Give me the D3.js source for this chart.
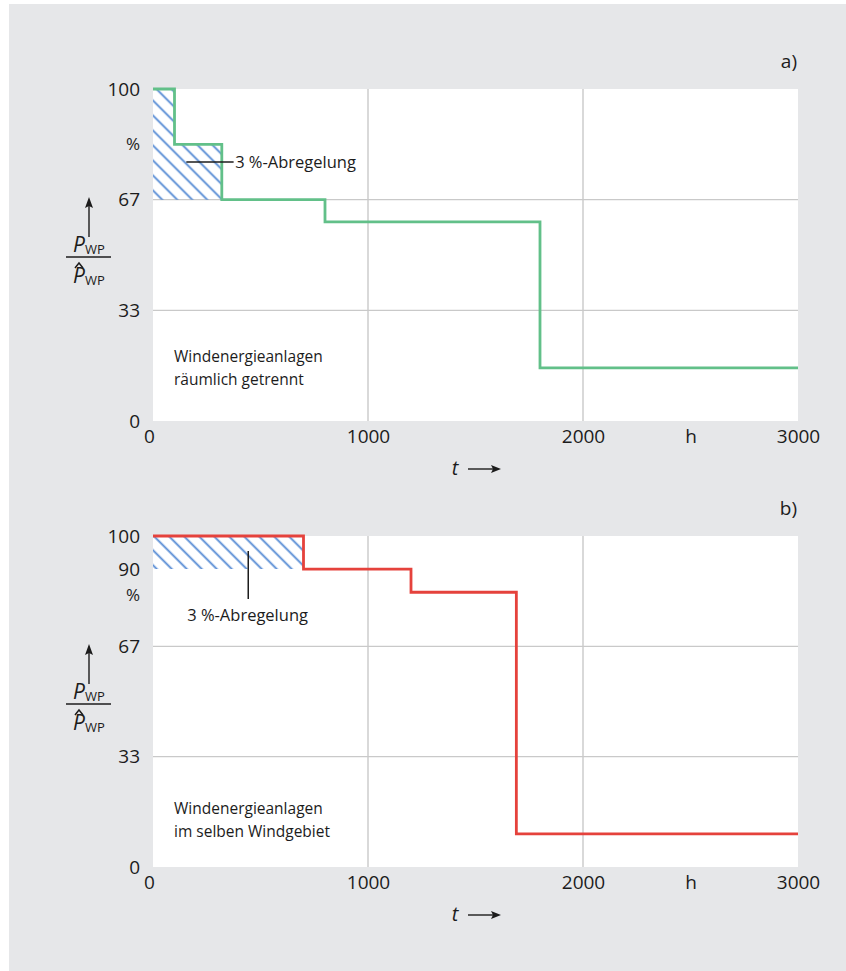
<!DOCTYPE html>
<html><head><meta charset="utf-8">
<script src="https://cdn.jsdelivr.net/npm/d3@7"></script>
<style>
html,body{margin:0;padding:0;background:#fff;}
svg text{font-family:"Open Sans",sans-serif;fill:#1c1c1c;}
</style></head>
<body><svg id="c" width="846" height="971"></svg>
<script>
// ---- data ----
const xTickValues = [0, 1000, 2000, 2500, 3000];
const xTickLabels = ["0", "1000", "2000", "h", "3000"];
const gridX = [1000, 2000];
const gridY = [100/3, 200/3];
const yTicksA = [0, 100/3, 200/3, 100];
const yLabelsA = ["0", "33", "67", "100"];
const yTicksB = [0, 100/3, 200/3, 90, 100];
const yLabelsB = ["0", "33", "67", "90", "100"];
// panel a) : green step curve (hours, percent)
const aTimes  = [0, 100, 320, 800, 1800, 3000];
const aLevels = [100, 83.3, 66.7, 60, 16, 16];
// curtailment region a)
const aCutTimes  = [0, 100, 320];
const aCutLevels = [100, 83.3, 83.3];
const aCutFloor = 200/3;
// panel b) : red step curve
const bTimes  = [0, 700, 1200, 1690, 3000];
const bLevels = [100, 90, 83, 10, 10];
const bCutTimes = [0, 700];
const bCutLevels = [100, 100];
const bCutFloor = 90;
const textA = ["Windenergieanlagen", "räumlich getrennt"];
const textB = ["Windenergieanlagen", "im selben Windgebiet"];
const cutLabel = "3 %-Abregelung";

const svg = d3.select("#c");
svg.append("rect").attr("x",9).attr("y",4).attr("width",846-9).attr("height",971-4).attr("fill","#e6e7e9");

const defs = svg.append("defs");
const pat = defs.append("pattern").attr("id","hatch").attr("patternUnits","userSpaceOnUse")
  .attr("width",12).attr("height",10.6).attr("patternTransform","rotate(45)");
pat.append("line").attr("x1",-1).attr("x2",13).attr("y1",5.3).attr("y2",5.3)
  .attr("stroke","#4f86d2").attr("stroke-width",1.8);

function panel(cfg){
  const x = d3.scaleLinear().domain([0,3000]).range([153,798]);
  const y = d3.scaleLinear().domain([0,100]).range([cfg.bottom, cfg.top]);
  const g = svg.append("g");
  g.append("rect").attr("x",x(0)).attr("y",y(100)).attr("width",x(3000)-x(0)).attr("height",y(0)-y(100)).attr("fill","#fff");
  g.selectAll(".gx").data(gridX).join("line").attr("x1",d=>x(d)).attr("x2",d=>x(d)).attr("y1",y(0)).attr("y2",y(100))
    .attr("stroke","#c9c9c9").attr("stroke-width",1.4);
  g.selectAll(".gy").data(gridY).join("line").attr("y1",d=>y(d)).attr("y2",d=>y(d)).attr("x1",x(0)).attr("x2",x(3000))
    .attr("stroke","#c9c9c9").attr("stroke-width",1.4);
  // hatch area
  const area = d3.area().x((d,i)=>x(cfg.cutT[i])).y0(y(cfg.cutFloor)).y1((d,i)=>y(d)).curve(d3.curveStepAfter);
  g.append("path").attr("d",area(cfg.cutL)).attr("fill","url(#hatch)");
  // step line
  const line = d3.line().x((d,i)=>x(cfg.times[i])).y(d=>y(d)).curve(d3.curveStepAfter);
  g.append("path").attr("d",line(cfg.levels)).attr("fill","none").attr("stroke",cfg.color).attr("stroke-width",2.8);
  // axes
  const ax = d3.axisBottom(x).tickValues(xTickValues).tickFormat((d,i)=>xTickLabels[i]).tickSize(0).tickPadding(9);
  const axg = g.append("g").attr("transform",`translate(0,${y(0)})`).call(ax);
  axg.select(".domain").remove();
  axg.selectAll("text").attr("font-size",19).attr("font-family","Open Sans").attr("fill","#1c1c1c");
  axg.selectAll(".tick").filter(d=>d===0).select("text").attr("dx",-4);
  const ay = d3.axisLeft(y).tickValues(cfg.yTicks).tickFormat((d,i)=>cfg.yLabels[i]).tickSize(0).tickPadding(13);
  const ayg = g.append("g").attr("transform",`translate(${x(0)},0)`).call(ay);
  ayg.select(".domain").remove();
  ayg.selectAll("text").attr("font-size",19).attr("font-family","Open Sans").attr("fill","#1c1c1c");
  // % sign
  g.append("text").attr("x",140).attr("y",y(cfg.pctVal)).attr("dy","0.35em").attr("text-anchor","end").attr("font-size",17).text("%");
  // panel label
  g.append("text").attr("x",797).attr("y",cfg.top-21).attr("text-anchor","end").attr("font-size",19).text(cfg.label);
  // t arrow
  const ty = cfg.bottom+54;
  g.append("text").attr("x",455).attr("y",ty).attr("text-anchor","middle").attr("font-size",20).attr("font-style","italic").text("t");
  g.append("line").attr("x1",468).attr("x2",494).attr("y1",ty-6).attr("y2",ty-6).attr("stroke","#1c1c1c").attr("stroke-width",1.4);
  g.append("path").attr("d",`M${501},${ty-6} L${491},${ty-10} L${493},${ty-6} L${491},${ty-2} Z`).attr("fill","#1c1c1c");
  // y label: arrow + fraction
  const ay0 = cfg.top + 108;
  g.append("line").attr("x1",89).attr("x2",89).attr("y1",ay0+8).attr("y2",ay0+40).attr("stroke","#1c1c1c").attr("stroke-width",1.4);
  g.append("path").attr("d",`M89,${ay0} L85,${ay0+11} L89,${ay0+9} L93,${ay0+11} Z`).attr("fill","#1c1c1c");
  const num = g.append("text").attr("x",73).attr("y",ay0+55).attr("font-size",21);
  num.append("tspan").attr("font-style","italic").text("P");
  num.append("tspan").attr("font-size",13).attr("dy",2).text("WP");
  g.append("line").attr("x1",66).attr("x2",111).attr("y1",ay0+60).attr("y2",ay0+60).attr("stroke","#1c1c1c").attr("stroke-width",1.3);
  const den = g.append("text").attr("x",73).attr("y",ay0+86).attr("font-size",21);
  den.append("tspan").attr("font-style","italic").text("P");
  den.append("tspan").attr("font-size",13).attr("dy",2).text("WP");
  g.append("path").attr("d",`M75,${ay0+71} L79,${ay0+66} L83,${ay0+71}`).attr("fill","none").attr("stroke","#1c1c1c").attr("stroke-width",1.5);
  // description text
  cfg.text.forEach((t,i)=>{
    g.append("text").attr("x",174).attr("y",cfg.textY+i*23).attr("font-size",15.5).text(t);
  });
  cfg.annot(g,x,y);
}

panel({top:89,bottom:421,color:"#62c089",times:aTimes,levels:aLevels,cutT:aCutTimes,cutL:aCutLevels,cutFloor:aCutFloor,
  yTicks:yTicksA,yLabels:yLabelsA,pctVal:83.5,label:"a)",text:textA,textY:362,
  annot:(g,x,y)=>{
    g.append("line").attr("x1",x(155)).attr("x2",x(375)).attr("y1",y(78)).attr("y2",y(78)).attr("stroke","#1c1c1c").attr("stroke-width",1.5);
    g.append("text").attr("x",x(382)).attr("y",y(78)).attr("dy","0.35em").attr("font-size",16.5).text(cutLabel);
  }});
panel({top:536,bottom:867,color:"#e5423c",times:bTimes,levels:bLevels,cutT:bCutTimes,cutL:bCutLevels,cutFloor:bCutFloor,
  yTicks:yTicksB,yLabels:yLabelsB,pctVal:82.3,label:"b)",text:textB,textY:814,
  annot:(g,x,y)=>{
    g.append("line").attr("x1",x(443)).attr("x2",x(443)).attr("y1",y(95.5)).attr("y2",y(81)).attr("stroke","#1c1c1c").attr("stroke-width",1.5);
    g.append("text").attr("x",x(440)).attr("y",y(74.3)).attr("text-anchor","middle").attr("font-size",16.5).text(cutLabel);
  }});
</script></body></html>
